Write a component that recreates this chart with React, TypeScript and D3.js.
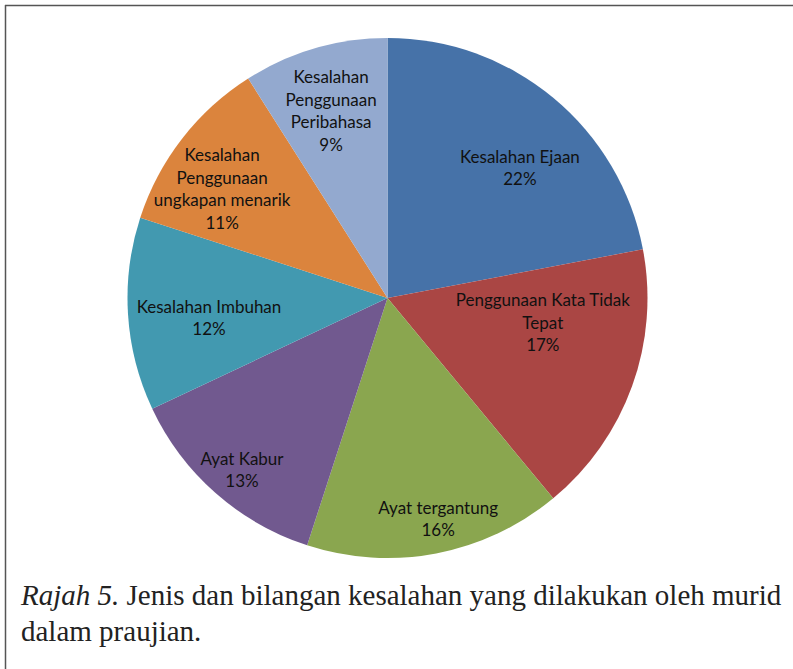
import React from 'react';
import * as d3 from 'd3';

// slices, clockwise from 12 o'clock
const categories = [
  'Kesalahan Ejaan',
  'Penggunaan Kata Tidak Tepat',
  'Ayat tergantung',
  'Ayat Kabur',
  'Kesalahan Imbuhan',
  'Kesalahan Penggunaan ungkapan menarik',
  'Kesalahan Penggunaan Peribahasa',
];
const percentages = [22, 17, 16, 13, 12, 11, 9];
// how the label wraps inside each slice
const labelLines = [
  ['Kesalahan Ejaan'],
  ['Penggunaan Kata Tidak', 'Tepat'],
  ['Ayat tergantung'],
  ['Ayat Kabur'],
  ['Kesalahan Imbuhan'],
  ['Kesalahan', 'Penggunaan', 'ungkapan menarik'],
  ['Kesalahan', 'Penggunaan', 'Peribahasa'],
];
const colors = ['#4672A8', '#AA4644', '#8AA64F', '#71598F', '#4299B0', '#DB843D', '#93A9CF'];

// label placement (fraction of radius, angle shift in degrees) like excel's best fit
const labelPlacement = [
  { r: 0.714, shift: 5.9 },
  { r: 0.605, shift: -10.7 },
  { r: 0.872, shift: -2.1 },
  { r: 0.867, shift: -1.2 },
  { r: 0.691, shift: -2.8 },
  { r: 0.762, shift: -4.4 },
  { r: 0.751, shift: -0.6 },
];

const W = 793;
const H = 669;
const cx = 387.5;
const cy = 298;
const R = 260;
const lineH = 22.5;

export default function App() {
  const data = categories.map((c, i) => ({ name: c, value: percentages[i], idx: i }));
  const pie = d3.pie<any>().sort(null).value(d => d.value);
  const arc = d3.arc<any>().innerRadius(0).outerRadius(R);
  const arcs = pie(data);

  return (
    <div style={{ position: 'absolute', left: 0, top: 0 }}>
      <svg width={W} height={H} style={{ display: 'block' }}>
        <rect width={W} height={H} fill="#fff" />
        {/* frame, only top and left edges show */}
        <line x1={5} y1={5.5} x2={W} y2={5.5} stroke="#555" strokeWidth={1.5} />
        <line x1={5.5} y1={5} x2={5.5} y2={H} stroke="#555" strokeWidth={1.5} />

        <g transform={`translate(${cx},${cy})`}>
          {arcs.map((a, i) => (
            <path key={i} d={arc(a) as string} fill={colors[i]} />
          ))}
          {arcs.map((a, i) => {
            const p = labelPlacement[i];
            const ang = (a.startAngle + a.endAngle) / 2 + (p.shift * Math.PI) / 180;
            const lx = p.r * R * Math.sin(ang);
            const ly = -p.r * R * Math.cos(ang);
            const lines = [...labelLines[i], `${percentages[i]}%`];
            const y0 = ly - ((lines.length - 1) * lineH) / 2 + 6;
            return (
              <text
                key={i}
                textAnchor="middle"
                fontFamily="Lato, 'Noto Sans', sans-serif"
                fontSize={17}
                fill="#111"
              >
                {lines.map((t, k) => (
                  <tspan key={k} x={lx} y={y0 + k * lineH}>
                    {t}
                  </tspan>
                ))}
              </text>
            );
          })}
        </g>

        <text
          fontFamily="'Liberation Serif', 'Times New Roman', serif"
          fontSize={29}
          fill="#222"
        >
          <tspan x={21} y={605}>
            <tspan fontStyle="italic">Rajah 5.</tspan> Jenis dan bilangan kesalahan yang dilakukan oleh murid
          </tspan>
          <tspan x={21} y={641}>dalam praujian.</tspan>
        </text>
      </svg>
    </div>
  );
}
